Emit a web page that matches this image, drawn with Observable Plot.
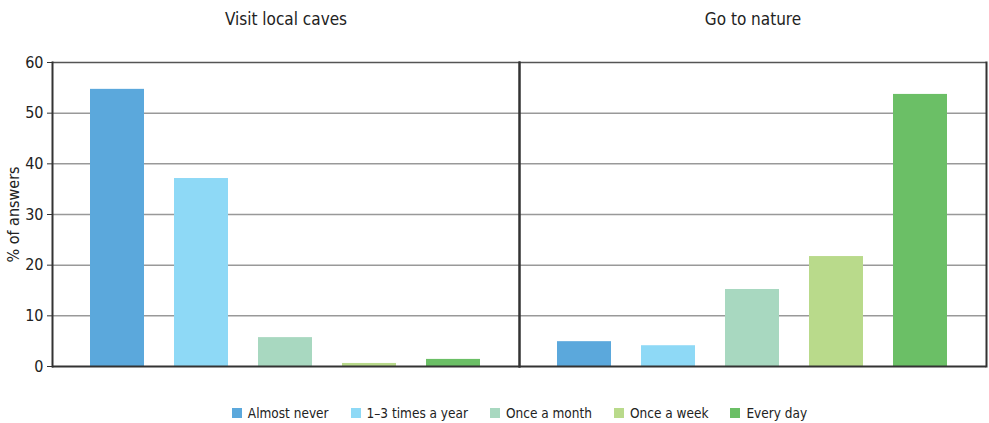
<!DOCTYPE html>
<html>
<head>
<meta charset="utf-8">
<script src="https://cdn.jsdelivr.net/npm/d3@7"></script>
<script src="https://cdn.jsdelivr.net/npm/@observablehq/plot@0.6"></script>
<style>
  html, body { margin: 0; padding: 0; background: #fff; }
  body { width: 989px; font-family: "Liberation Sans Narrow", "DejaVu Sans Condensed", "Roboto Condensed", sans-serif; color: #222; }
  #legend { display: flex; justify-content: center; align-items: center; height: 33px; font-size: 13.5px; margin-left: 50px; padding-top: 6px; }
  .item { display: flex; align-items: center; margin: 0 11px; }
  .sw { width: 10px; height: 10px; margin-right: 6px; }
</style>
</head>
<body>
<div id="chart"></div>
<div id="legend"></div>
<script>
const panels = ["Visit local caves", "Go to nature"];
const categories = ["Almost never", "1–3 times a year", "Once a month", "Once a week", "Every day"];
const cavesValues = [54.7, 37.1, 5.7, 0.6, 1.4];
const natureValues = [4.9, 4.1, 15.2, 21.7, 53.7];
const colors = ["#5ba8dc", "#8ed9f6", "#a8d8c0", "#b9da8b", "#6bbf66"];
const yTicks = [0, 10, 20, 30, 40, 50, 60];
const yLabel = "% of answers";

const data = [
  ...categories.map((c, i) => ({panel: panels[0], category: c, value: cavesValues[i]})),
  ...categories.map((c, i) => ({panel: panels[1], category: c, value: natureValues[i]}))
];

const font = '"Liberation Sans Narrow", "DejaVu Sans Condensed", "Roboto Condensed", sans-serif';

const chart = Plot.plot({
  width: 989,
  height: 390,
  marginLeft: 52,
  marginRight: 3,
  marginTop: 62,
  marginBottom: 24,
  style: {fontFamily: font, color: "#222", background: "#fff"},
  fx: {domain: panels, padding: 0, axis: null},
  x: {domain: categories, paddingInner: 0.353, paddingOuter: 0.424, axis: null},
  y: {domain: [0, 60]},
  color: {domain: categories, range: colors},
  marks: [
    Plot.ruleY(yTicks.filter(d => d > 0 && d < 60), {stroke: "#999", strokeWidth: 1.5, strokeOpacity: 1}),
    Plot.ruleY([60], {stroke: "#555", strokeWidth: 1.5}),
    Plot.barY(data, {fx: "panel", x: "category", y: "value", fill: "category"}),
    Plot.ruleY([0], {stroke: "#333", strokeWidth: 2}),
    Plot.frame({anchor: "left", stroke: "#333", strokeWidth: 2}),
    Plot.frame({anchor: "right", stroke: "#333", strokeWidth: 2}),
    Plot.axisY({ticks: yTicks, tickSize: 5, tickPadding: 4, fontSize: 16, stroke: "#333",
      label: yLabel, labelAnchor: "center", labelArrow: "none", labelOffset: 45}),
    Plot.text(panels, {fx: d => d, text: d => d, frameAnchor: "top", lineAnchor: "middle", dy: -43, fontSize: 17, fill: "#222"})
  ]
});
document.getElementById("chart").appendChild(chart);

const legend = document.getElementById("legend");
categories.forEach((c, i) => {
  const item = document.createElement("div");
  item.className = "item";
  const sw = document.createElement("div");
  sw.className = "sw";
  sw.style.background = colors[i];
  const t = document.createElement("span");
  t.textContent = c;
  item.appendChild(sw);
  item.appendChild(t);
  legend.appendChild(item);
});
</script>
</body>
</html>
